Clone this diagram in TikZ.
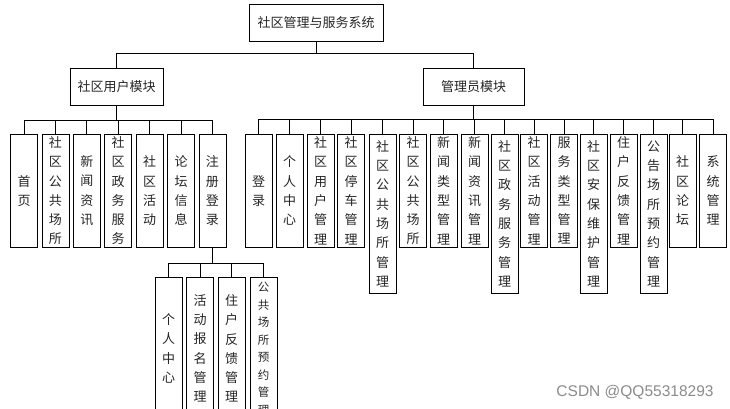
\documentclass[tikz,border=0pt]{standalone}
\usepackage{fontspec}
\setmainfont{Liberation Sans}
\newfontfamily\cjk{Noto Sans CJK SC}
\begin{document}
\begin{tikzpicture}[x=1pt,y=-1pt,
  hbox/.style={draw, line width=0.8pt, inner sep=0pt, minimum height=37pt, text=black!85, font=\cjk\fontsize{13}{15}\selectfont},
  vbox/.style={draw, line width=0.8pt, inner sep=0pt, minimum width=27pt, align=center, text=black!85, font=\cjk\fontsize{13}{19.3}\selectfont},
  shortbox/.style={vbox, minimum height=112.5pt},
  longbox/.style={vbox, minimum height=158.5pt},
  subbox/.style={vbox, minimum height=143pt},
  link/.style={line width=0.8pt}]
\fill[white] (0,0) rectangle (730,409);
\path[use as bounding box] (0,0) rectangle (730,409);
\clip (0,0) rectangle (730,409);

% top levels
\node[hbox, minimum width=134pt] (root) at (316,22.5) {社区管理与服务系统};
\node[hbox, minimum width=93pt] (user) at (116.5,86.5) {社区用户模块};
\node[hbox, minimum width=101pt] (admin) at (473.5,86.5) {管理员模块};

% user children
\node[shortbox] (u1) at (24,190.75) {首\\页};
\node[shortbox] (u2) at (55.4,190.75) {社\\区\\公\\共\\场\\所};
\node[shortbox] (u3) at (86.8,190.75) {新\\闻\\资\\讯};
\node[shortbox] (u4) at (118.2,190.75) {社\\区\\政\\务\\服\\务};
\node[shortbox] (u5) at (149.6,190.75) {社\\区\\活\\动};
\node[shortbox] (u6) at (181,190.75) {论\\坛\\信\\息};
\node[shortbox] (u7) at (212.4,190.75) {注\\册\\登\\录};

% admin children
\node[shortbox] (a1) at (258.5,190.75) {登\\录};
\node[shortbox] (a2) at (289.5,190.75) {个\\人\\中\\心};
\node[shortbox] (a3) at (320.5,190.75) {社\\区\\用\\户\\管\\理};
\node[shortbox] (a4) at (351,190.75) {社\\区\\停\\车\\管\\理};
\node[longbox]  (a5) at (382.5,213.75) {社\\区\\公\\共\\场\\所\\管\\理};
\node[shortbox] (a6) at (413,190.75) {社\\区\\公\\共\\场\\所};
\node[shortbox] (a7) at (443.5,190.75) {新\\闻\\类\\型\\管\\理};
\node[shortbox] (a8) at (474.5,190.75) {新\\闻\\资\\讯\\管\\理};
\node[longbox]  (a9) at (504.5,213.75) {社\\区\\政\\务\\服\\务\\管\\理};
\node[shortbox] (a10) at (534,190.75) {社\\区\\活\\动\\管\\理};
\node[shortbox] (a11) at (564,190.75) {服\\务\\类\\型\\管\\理};
\node[longbox]  (a12) at (593.5,213.75) {社\\区\\安\\保\\维\\护\\管\\理};
\node[shortbox] (a13) at (623.5,190.75) {住\\户\\反\\馈\\管\\理};
\node[longbox]  (a14) at (653.5,213.75) {公\\告\\场\\所\\预\\约\\管\\理};
\node[shortbox] (a15) at (682.5,190.75) {社\\区\\论\\坛};
\node[shortbox] (a16) at (713,190.75) {系\\统\\管\\理};

% sub children of 注册登录
\node[subbox] (s1) at (168.5,348.5) {个\\人\\中\\心};
\node[subbox] (s2) at (200,348.5) {活\\动\\报\\名\\管\\理};
\node[subbox] (s3) at (231.5,348.5) {住\\户\\反\\馈\\管\\理};
\node[subbox, font=\cjk\fontsize{11.5}{17.5}\selectfont] (s4) at (263.5,348.5) {公\\共\\场\\所\\预\\约\\管\\理};

% bus points
\coordinate (b0) at (316,53);
\coordinate (bu) at (116.5,120);
\coordinate (ba) at (473.5,119);
\coordinate (bs) at (212.4,263);

% connectors
\draw[link] (root.south) -- (b0);
\draw[link] (user.north) |- (b0);
\draw[link] (admin.north) |- (b0);
\draw[link] (user.south) -- (bu);
\foreach \i in {1,...,7} \draw[link] (u\i.north) |- (bu);
\draw[link] (admin.south) -- (ba);
\foreach \i in {1,...,16} \draw[link] (a\i.north) |- (ba);
\draw[link] (u7.south) -- (bs);
\foreach \i in {1,...,4} \draw[link] (s\i.north) |- (bs);

% watermark
\node[text=black!45, font=\fontsize{15.5}{18}\selectfont] (wm) at (635,392) {CSDN @QQ55318293};
\end{tikzpicture}
\end{document}
